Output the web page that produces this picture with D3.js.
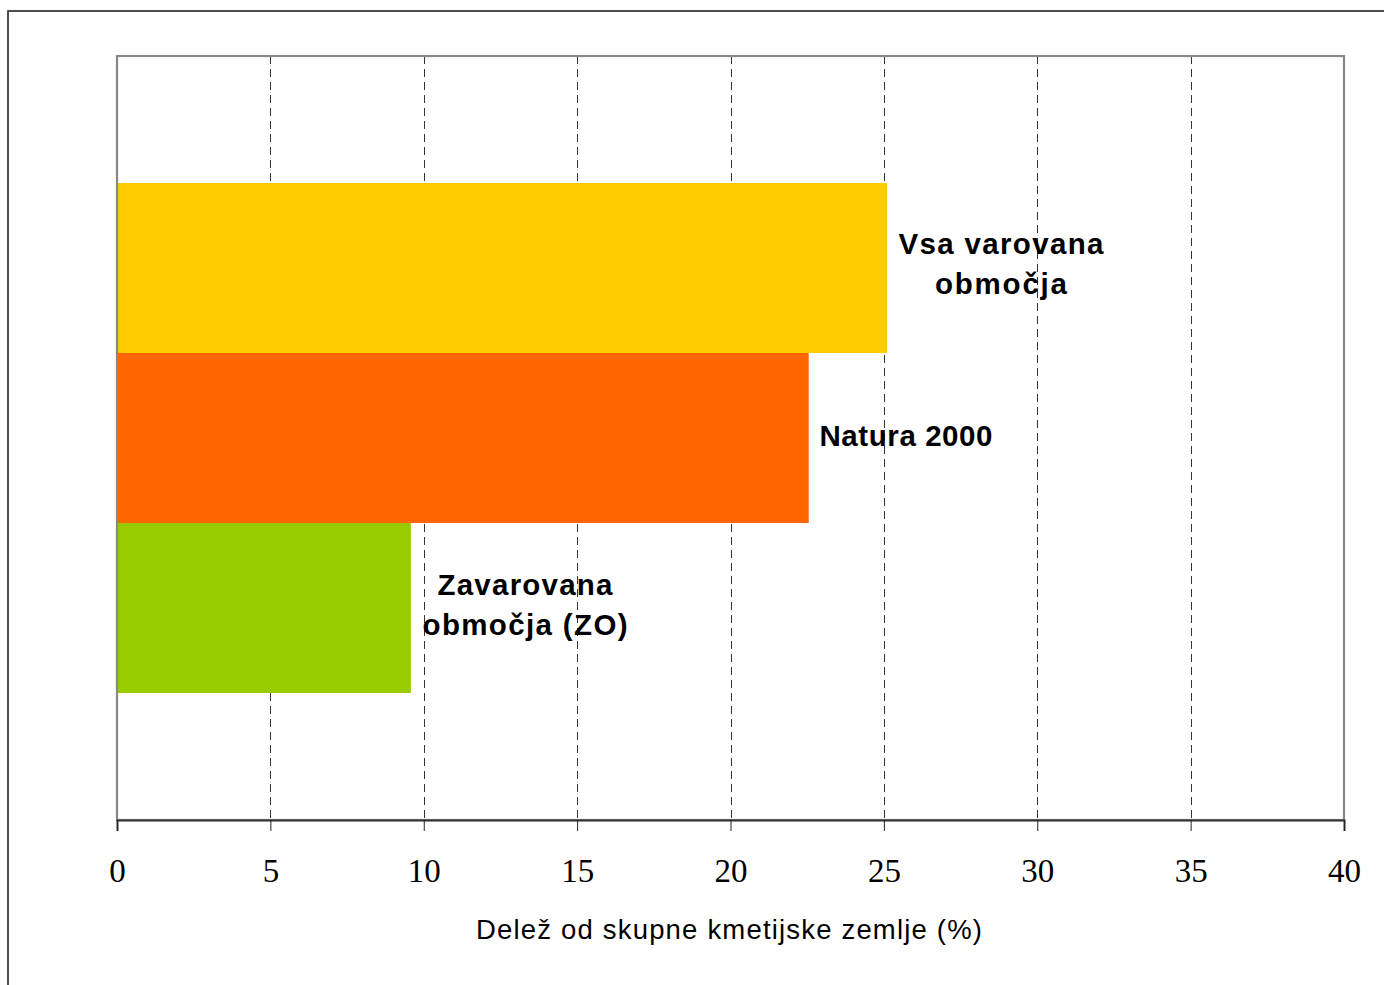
<!DOCTYPE html>
<html>
<head>
<meta charset="utf-8">
<script src="https://cdn.jsdelivr.net/npm/d3@7"></script>
<style>
html,body{margin:0;padding:0;background:#fff;}
svg{display:block;}
</style>
</head>
<body>
<svg id="chart" width="1384" height="985"></svg>
<script>
const categories = ["Vsa varovana območja", "Natura 2000", "Zavarovana območja (ZO)"];
const values = [25.1, 22.55, 9.58];
const colors = ["#FFCC00", "#FF6600", "#99CC00"];
const labelLines = [["Vsa varovana", "območja"], ["Natura 2000"], ["Zavarovana", "območja (ZO)"]];
const xTicks = [0, 5, 10, 15, 20, 25, 30, 35, 40];
const xTitle = "Delež od skupne kmetijske zemlje (%)";

const svg = d3.select("#chart");
const m = {left: 117, top: 56, right: 1344, bottom: 820};

// outer frame
svg.append("rect").attr("x", 8).attr("y", 11).attr("width", 1400).attr("height", 1000)
  .attr("fill", "none").attr("stroke", "#222").attr("stroke-width", 1.6);

const x = d3.scaleLinear().domain([0, 40]).range([m.left, m.right]);
const y = d3.scaleBand().domain(categories).range([m.top, m.bottom]).paddingInner(0).paddingOuter(0.747);

// gridlines
svg.append("g").selectAll("line").data(xTicks.filter(d => d > 0 && d < 40)).join("line")
  .attr("x1", d => Math.round(x(d)) + 0.5).attr("x2", d => Math.round(x(d)) + 0.5)
  .attr("y1", m.top).attr("y2", m.bottom)
  .attr("stroke", "#333").attr("stroke-width", 1).attr("stroke-dasharray", "8,5");

// bars
svg.append("g").selectAll("rect").data(categories).join("rect")
  .attr("x", m.left).attr("y", d => y(d))
  .attr("width", (d, i) => x(values[i]) - m.left).attr("height", y.bandwidth())
  .attr("fill", (d, i) => colors[i]);

// plot border (gray)
svg.append("rect").attr("x", m.left).attr("y", m.top)
  .attr("width", m.right - m.left).attr("height", m.bottom - m.top)
  .attr("fill", "none").attr("stroke", "#888").attr("stroke-width", 2.2);

// x axis
const ax = svg.append("g").attr("transform", `translate(0,${m.bottom})`)
  .call(d3.axisBottom(x).tickValues(xTicks).tickSize(11).tickPadding(28).tickFormat(d3.format("d")));
ax.select(".domain").attr("stroke", "#333").attr("stroke-width", 2);
ax.selectAll(".tick line").attr("stroke", "#222").attr("stroke-width", 1);
ax.selectAll(".tick text").attr("font-family", "'Liberation Serif','Times New Roman',serif")
  .attr("font-size", 33).attr("fill", "#000");

// axis title
svg.append("text").attr("x", 729).attr("y", 939).attr("text-anchor", "middle")
  .attr("font-family", "'Liberation Sans',Arial,sans-serif").attr("font-size", 27.5)
  .attr("textLength", 506).attr("lengthAdjust", "spacing")
  .text(xTitle);

// bar labels
const labelSpec = [
  {cx: 1001, base: 254, widths: [205, 132]},
  {cx: 906, base: 446, widths: [173]},
  {cx: 525, base: 595, widths: [175, 205]}
];
labelLines.forEach((lines, i) => {
  const s = labelSpec[i];
  lines.forEach((t, j) => {
    svg.append("text").attr("x", s.cx).attr("y", s.base + j * 40).attr("text-anchor", "middle")
      .attr("font-family", "'Liberation Sans',Arial,sans-serif").attr("font-weight", "bold")
      .attr("font-size", 29.5).attr("fill", "#000")
      .attr("textLength", s.widths[j]).attr("lengthAdjust", "spacing")
      .text(t);
  });
});
</script>
</body>
</html>
